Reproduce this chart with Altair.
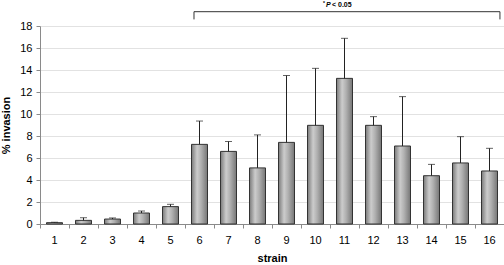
import altair as alt
import pandas as pd

strains = [str(i) for i in range(1, 17)]
means = [0.12, 0.33, 0.45, 1.0, 1.58, 7.24, 6.6, 5.1, 7.42, 8.97, 13.24, 8.97, 7.09, 4.39, 5.55, 4.82]
uppers = [0.16, 0.57, 0.55, 1.18, 1.79, 9.36, 7.5, 8.1, 13.5, 14.15, 16.88, 9.76, 11.58, 5.42, 7.94, 6.88]

bracket_start = ["6"]
bracket_end = ["16"]
bracket_top = [19.3]
bracket_foot = [18.6]
sig_strain = ["11"]
sig_y = [19.95]

df = pd.DataFrame({"strain": strains, "mean": means, "upper": uppers})
br = pd.DataFrame({"s0": bracket_start, "s1": bracket_end, "top": bracket_top, "foot": bracket_foot})
sig = pd.DataFrame({"strain": sig_strain, "y": sig_y})

FONT = "Liberation Sans"

xscale = alt.Scale(domain=strains, paddingInner=0, paddingOuter=0)
xaxis = alt.Axis(title="strain", labelAngle=0, bandPosition=0, grid=False,
                 tickSize=4, labelPadding=6, titlePadding=7,
                 domainColor="#8a8a8a", tickColor="#8a8a8a")
yscale = alt.Scale(domain=[0, 18], nice=False)
yaxis = alt.Axis(title="% invasion", values=list(range(0, 19, 2)), tickSize=4,
                 labelPadding=4, titlePadding=8, grid=True, gridColor="#e2e2e2",
                 domainColor="#8a8a8a", tickColor="#8a8a8a")


def X(field, bp=None):
    if bp is None:
        return alt.X(field, type="nominal", scale=xscale, axis=xaxis)
    return alt.X(field, type="nominal", scale=xscale, axis=xaxis, bandPosition=bp)


def Y(field):
    return alt.Y(field, type="quantitative", scale=yscale, axis=yaxis)


grad = alt.Gradient(gradient="linear", x1=0, x2=1, y1=0, y2=0,
                    stops=[alt.GradientStop(offset=0, color="#7a7a7a"),
                           alt.GradientStop(offset=0.35, color="#cccccc"),
                           alt.GradientStop(offset=0.6, color="#b0b0b0"),
                           alt.GradientStop(offset=1, color="#767676")])

base = alt.Chart(df)
bars = base.mark_bar(size=16, fill=grad, stroke="#333333", strokeWidth=1).encode(
    x=X("strain"), y=Y("mean"))
err = base.mark_rule(color="#222222", strokeWidth=1).encode(
    x=X("strain"), y=Y("mean"), y2="upper:Q")
cap = base.mark_tick(color="#222222", size=7, thickness=1).encode(
    x=X("strain"), y=Y("upper"))

bc = alt.Chart(br)
b_h = bc.mark_rule(color="#333333", strokeWidth=1).encode(
    x=X("s0", 0.31), x2=alt.X2("s1", bandPosition=0.86), y=Y("top"))
b_l = bc.mark_rule(color="#333333", strokeWidth=1).encode(
    x=X("s0", 0.31), y=Y("top"), y2="foot:Q")
b_r = bc.mark_rule(color="#333333", strokeWidth=1).encode(
    x=X("s1", 0.86), y=Y("top"), y2="foot:Q")

sc = alt.Chart(sig)
star = sc.mark_text(text="*", font=FONT, fontSize=5, fontWeight="bold", align="left",
                    baseline="middle", dx=-7, dy=-2).encode(x=X("strain", 0), y=Y("y"))
ptxt = sc.mark_text(text="P", font=FONT, fontSize=7, fontWeight="bold", fontStyle="italic",
                    align="left", baseline="middle", dx=-4).encode(x=X("strain", 0), y=Y("y"))
rest = sc.mark_text(text="< 0.05", font=FONT, fontSize=7, fontWeight="bold",
                    align="left", baseline="middle", dx=2).encode(x=X("strain", 0), y=Y("y"))

chart = alt.layer(bars, err, cap, b_h, b_l, b_r, star, ptxt, rest).properties(
    width=464, height=198,
    autosize=alt.AutoSizeParams(type="none"),
    padding={"left": 40, "top": 26, "right": 0, "bottom": 41},
).configure_view(stroke=None).configure_axis(
    labelFont=FONT, labelFontSize=11, labelColor="#000000",
    titleFont=FONT, titleFontSize=11, titleFontWeight="bold", titleColor="#000000",
)

chart.save("out.html", embed_options={"renderer": "svg", "actions": False})
